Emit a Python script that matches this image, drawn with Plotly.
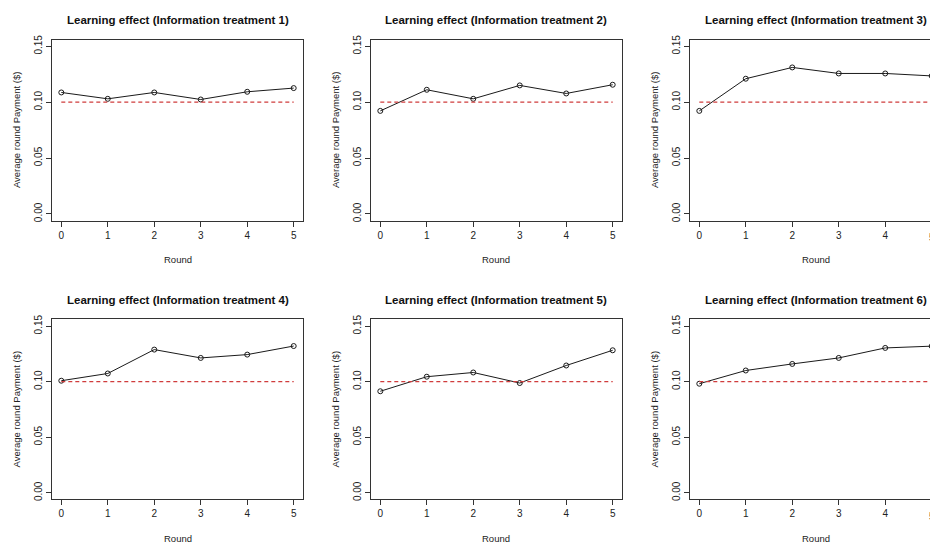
import plotly.graph_objects as go

# ---- data ----
rounds = [0, 1, 2, 3, 4, 5]
titles = [
    "Learning effect (Information treatment 1)",
    "Learning effect (Information treatment 2)",
    "Learning effect (Information treatment 3)",
    "Learning effect (Information treatment 4)",
    "Learning effect (Information treatment 5)",
    "Learning effect (Information treatment 6)",
]
treat1 = [0.1087, 0.1030, 0.1087, 0.1024, 0.1093, 0.1126]
treat2 = [0.0922, 0.1111, 0.1030, 0.1150, 0.1078, 0.1156]
treat3 = [0.0922, 0.1210, 0.1311, 0.1257, 0.1257, 0.1235]
treat4 = [0.1009, 0.1074, 0.1289, 0.1214, 0.1244, 0.1321]
treat5 = [0.0914, 0.1045, 0.1083, 0.0988, 0.1146, 0.1283]
treat6 = [0.0982, 0.1101, 0.1160, 0.1214, 0.1304, 0.1320]
series = [treat1, treat2, treat3, treat4, treat5, treat6]
ref_x = [0, 5]
ref_level = 0.10
x_ticks = [0, 1, 2, 3, 4, 5]
y_ticks = [0.00, 0.05, 0.10, 0.15]
y_ticktext = ["0.00", "0.05", "0.10", "0.15"]
x_label = "Round"
y_label = "Average round Payment ($)"

# ---- layout geometry (pixels) ----
W, H = 930, 543
col_px = [(52, 303), (371, 622), (690, 941)]
row_px = [(35, 218), (318, 500)]
x_full = (-0.2, 5.2)
y_full = (-0.006, 0.156)

FONT = "Liberation Sans, Arial, sans-serif"
fig = go.Figure()
annotations = []

for i, vals in enumerate(series):
    r, c = divmod(i, 3)
    n = i + 1
    xa = "x" if n == 1 else f"x{n}"
    ya = "y" if n == 1 else f"y{n}"
    x0p, x1p = col_px[c]
    y0p, y1p = row_px[r]
    ppu = (x1p - x0p) / (x_full[1] - x_full[0])
    xr1 = x_full[1]
    right = x1p
    if x1p > W:
        right = W
        xr1 = x_full[0] + (W - x0p) / ppu
    fig.add_trace(go.Scatter(
        x=rounds, y=vals, mode="lines+markers",
        line=dict(color="#1a1a1a", width=1),
        marker=dict(symbol="circle-open", size=5, color="#1a1a1a",
                    line=dict(width=1, color="#1a1a1a")),
        xaxis=xa, yaxis=ya, showlegend=False, hoverinfo="skip"))
    fig.add_trace(go.Scatter(
        x=ref_x, y=[ref_level, ref_level], mode="lines",
        line=dict(color="#d03c3c", width=1.2, dash="4px,3px"),
        xaxis=xa, yaxis=ya, showlegend=False, hoverinfo="skip"))
    axkw = dict(showgrid=False, zeroline=False, showline=True,
                linecolor="#333", linewidth=1, ticks="outside",
                ticklen=5, tickcolor="#333", tickwidth=1,
                tickfont=dict(family=FONT, size=10, color="#222"))
    fig.layout[("xaxis" if n == 1 else f"xaxis{n}")] = dict(
        domain=[x0p / W, right / W], range=[x_full[0], xr1],
        tickvals=x_ticks, anchor=ya, mirror=True, **axkw)
    fig.layout[("yaxis" if n == 1 else f"yaxis{n}")] = dict(
        domain=[1 - y1p / H, 1 - y0p / H], range=list(y_full),
        tickvals=y_ticks, ticktext=y_ticktext, tickangle=-90,
        anchor=xa, mirror=(x1p <= W), **axkw)
    cx = (x0p + x1p) / 2
    annotations.append(dict(
        text=f"<b>{titles[i]}</b>", x=cx / W, y=1 - (y0p - 20) / H,
        xref="paper", yref="paper", showarrow=False,
        xanchor="center", yanchor="middle",
        font=dict(family=FONT, size=11.5, color="#111")))
    annotations.append(dict(
        text=x_label, x=cx / W, y=1 - (y1p + 39) / H,
        xref="paper", yref="paper", showarrow=False,
        xanchor="center", yanchor="middle",
        font=dict(family=FONT, size=9.5, color="#222")))
    annotations.append(dict(
        text=y_label, x=(x0p - 36) / W, y=1 - ((y0p + y1p) / 2) / H,
        xref="paper", yref="paper", showarrow=False, textangle=-90,
        xanchor="center", yanchor="middle",
        font=dict(family=FONT, size=9.5, color="#222")))
    if x1p > W:
        # tick label "5" partly beyond the right edge
        annotations.append(dict(
            text=str(x_ticks[-1]), x=(x0p + (x_ticks[-1] - x_full[0]) * ppu) / W,
            y=1 - (y1p + 17) / H, xref="paper", yref="paper",
            showarrow=False, xanchor="center", yanchor="middle",
            font=dict(family=FONT, size=10, color="#222")))

fig.update_layout(
    width=W, height=H, margin=dict(l=0, r=0, t=0, b=0),
    paper_bgcolor="white", plot_bgcolor="white",
    annotations=annotations, showlegend=False)

fig.write_html(
    "out.html",
    config={"displayModeBar": False, "staticPlot": True},
    post_script="document.body.style.margin='0';document.body.style.overflow='hidden';")
